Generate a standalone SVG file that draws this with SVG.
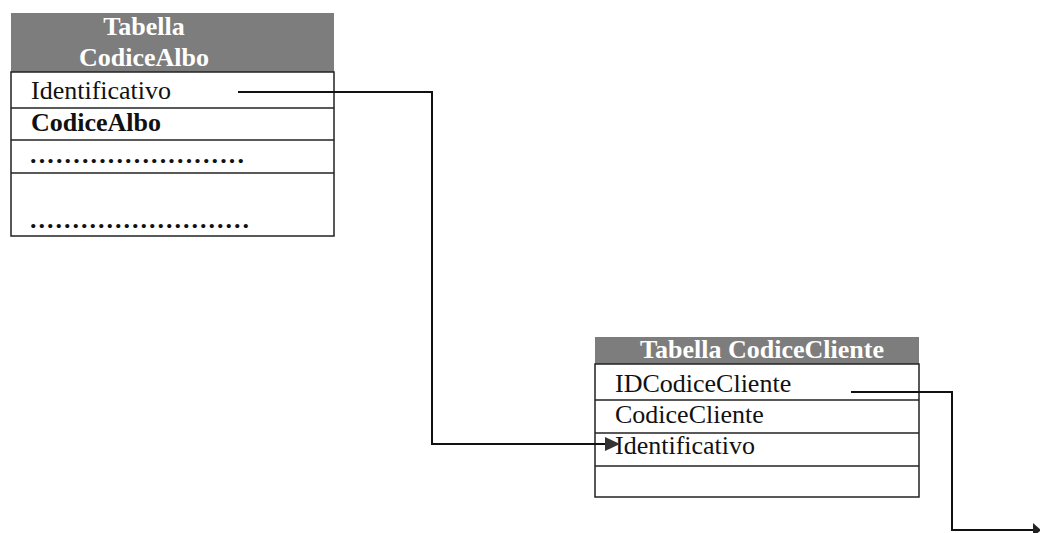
<svg xmlns="http://www.w3.org/2000/svg" width="1040" height="533" viewBox="0 0 1040 533">
<style>
.hdr{fill:#7d7d7d}
.box{fill:none;stroke:#222;stroke-width:1.5}
.sep{stroke:#222;stroke-width:1.5}
.ht{font-family:"Liberation Serif",serif;font-weight:bold;font-size:26px;fill:#fff;text-anchor:middle}
.t{font-family:"Liberation Serif",serif;font-size:26px;fill:#111}
.tb{font-family:"Liberation Serif",serif;font-size:26px;font-weight:bold;fill:#111}
.dots{font-family:"Liberation Serif",serif;font-size:26px;font-weight:bold;fill:#111}
.conn{fill:none;stroke:#111;stroke-width:2}
</style>
<defs>
<marker id="arr" markerWidth="8" markerHeight="8" refX="7" refY="4" orient="auto" markerUnits="userSpaceOnUse" viewBox="0 0 8 8">
<path d="M0,0 L8,4 L0,8 Z" fill="#222"/>
</marker>
</defs>
<rect width="1040" height="533" fill="#fff"/>
<g id="tabella-codicealbo">
<rect class="hdr" x="11" y="13" width="323" height="59"/>
<text class="ht" x="144" y="35">Tabella</text>
<text class="ht" x="144" y="66">CodiceAlbo</text>
<rect class="box" x="11" y="72" width="323" height="164"/>
<line class="sep" x1="11" y1="108" x2="334" y2="108"/>
<line class="sep" x1="11" y1="140" x2="334" y2="140"/>
<line class="sep" x1="11" y1="173" x2="334" y2="173"/>
<text class="t" x="31" y="99">Identificativo</text>
<text class="tb" x="31" y="131">CodiceAlbo</text>
<text class="dots" x="30" y="163" textLength="214" lengthAdjust="spacing">.........................</text>
<text class="dots" x="30" y="228" textLength="219" lengthAdjust="spacing">..........................</text>
</g>
<g id="tabella-codicecliente">
<rect class="hdr" x="595" y="337" width="324" height="27"/>
<text class="ht" x="762" y="358">Tabella CodiceCliente</text>
<rect class="box" x="595" y="364" width="324" height="133"/>
<line class="sep" x1="595" y1="400" x2="919" y2="400"/>
<line class="sep" x1="595" y1="433" x2="919" y2="433"/>
<line class="sep" x1="595" y1="466" x2="919" y2="466"/>
<text class="t" x="615" y="392">IDCodiceCliente</text>
<text class="t" x="615" y="423">CodiceCliente</text>
<text class="t" x="615" y="454">Identificativo</text>
</g>
<g id="connectors">
<path class="conn" d="M238,92 H432 V444 H605"/>
<path d="M605,437 L620,444 L605,451 Z" fill="#333"/>
<path class="conn" d="M851,392 H952 V530 H1034"/>
<path d="M1033,523 L1041,530 L1033,537 Z" fill="#222"/>
</g>
</svg>
